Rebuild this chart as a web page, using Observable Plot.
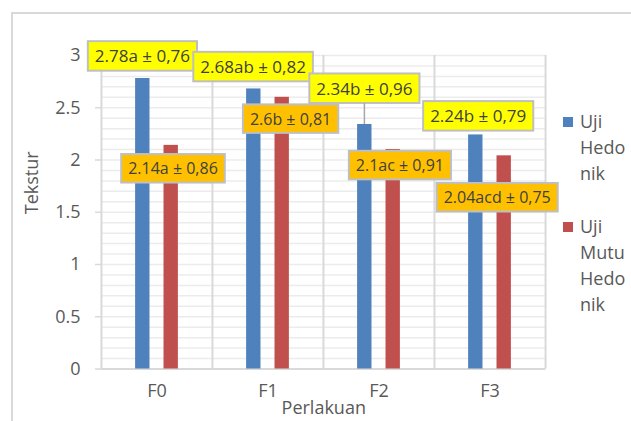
<!DOCTYPE html>
<html>
<head>
<meta charset="utf-8">
<script src="https://cdn.jsdelivr.net/npm/d3@7"></script>
<script src="https://cdn.jsdelivr.net/npm/@observablehq/plot@0.6"></script>
<style>
  html, body { margin: 0; padding: 0; background: #fff; }
  #chart svg { display: block; }
</style>
</head>
<body>
<div id="chart"></div>
<script>
// Treatments and the two sensory tests (texture scores)
const categories = ["F0", "F1", "F2", "F3"];
const seriesNames = ["Uji Hedonik", "Uji Mutu Hedonik"];
const hedonik = [2.78, 2.68, 2.34, 2.24];
const mutuHedonik = [2.14, 2.6, 2.1, 2.04];
const hedonikLetters = ["a", "ab", "b", "b"];
const hedonikSD = ["0,76", "0,82", "0,96", "0,79"];
const mutuLetters = ["a", "b", "ac", "acd"];
const mutuSD = ["0,86", "0,81", "0,91", "0,75"];
const yTicks = [0, 0.5, 1, 1.5, 2, 2.5, 3];

// Layout
const W = 631, H = 421;
const M = {top: 55, right: 85.5, bottom: 52.5, left: 101};
const band = (W - M.left - M.right) / categories.length;
const barW = 14.5, barShift = 14.2;
const inset = (band - barW) / 2;
const colors = ["#4f81bd", "#c0504d"];
const boxFill = ["#ffff00", "#ffc000"];
const gridColor = "#ececec", lineColor = "#d9d9d9", textColor = "#595959";

// Hand-placed label nudges (px) relative to each bar's top
const hedonikNudge = [[-0.4, -21.5], [-0.7, -21.3], [-0.4, -35.2], [2.4, -18]];
const mutuNudge = [[1.8, 23.8], [8.4, 22.2], [6.7, 16.4], [-7, 42.3]];

const rows = categories.map((c, i) => ({
  cat: c,
  h: hedonik[i],
  m: mutuHedonik[i],
  hl: `${hedonik[i]}${hedonikLetters[i]} ± ${hedonikSD[i]}`,
  ml: `${mutuHedonik[i]}${mutuLetters[i]} ± ${mutuSD[i]}`
}));

const minorGrid = d3.range(1, 31).map(k => k / 10);

const labelMark = (r, i, key, textKey, shift, nudge, size) =>
  Plot.text([r], {
    x: "cat", y: key, text: textKey,
    dx: shift + nudge[i][0], dy: nudge[i][1],
    lineAnchor: "middle", textAnchor: "middle",
    fontSize: size, fill: "#404040"
  });

const chart = Plot.plot({
  width: W, height: H,
  marginTop: M.top, marginRight: M.right, marginBottom: M.bottom, marginLeft: M.left,
  style: {fontFamily: "'Open Sans', sans-serif", fontSize: "18px", color: textColor, background: "#fff"},
  x: {domain: categories, padding: 0, tickSize: 0, tickPadding: 15, label: null},
  y: {domain: [0, 3], ticks: yTicks, tickSize: 6, tickPadding: 15, label: null, tickFormat: d => String(d)},
  marks: [
    Plot.ruleY(minorGrid, {stroke: gridColor, strokeWidth: 1.5}),
    Plot.ruleX(categories, {x: d => d, dx: -band / 2, stroke: lineColor, strokeWidth: 2}),
    Plot.ruleX([categories[categories.length - 1]], {x: d => d, dx: band / 2, stroke: lineColor, strokeWidth: 2}),
    Plot.ruleY([0], {stroke: lineColor, strokeWidth: 2}),
    Plot.barY(rows, {x: "cat", y: "h", fill: colors[0], dx: -barShift, insetLeft: inset, insetRight: inset}),
    Plot.barY(rows, {x: "cat", y: "m", fill: colors[1], dx: barShift, insetLeft: inset, insetRight: inset}),
    ...rows.map((r, i) => labelMark(r, i, "h", "hl", -barShift, hedonikNudge, 17)),
    ...rows.map((r, i) => labelMark(r, i, "m", "ml", barShift, mutuNudge, 16)),
    Plot.text(["Perlakuan"], {frameAnchor: "bottom", dy: 45, fontSize: 18, fill: textColor}),
    Plot.text(["Tekstur"], {frameAnchor: "left", dx: -69, dy: 2, rotate: -90, fontSize: 18, fill: textColor})
  ]
});

document.getElementById("chart").appendChild(chart);
const svg = d3.select(chart);

// Axis tick strokes in light gray
svg.selectAll('[aria-label="y-axis tick"], [aria-label="y-axis"] line, [aria-label="y-axis"] path')
  .attr("stroke", lineColor).attr("stroke-width", 1.5);

// Boxes behind the data labels, leader line for labels lifted well above their bar
const yScale = chart.scale("y");
const svgRect = chart.getBoundingClientRect();
const leaders = [];
const labelStyle = new Map();
rows.forEach((r, i) => {
  labelStyle.set(r.hl, {fill: boxFill[0], h: 29.5, top: yScale.apply(r.h), above: hedonikNudge[i][1] < 0});
  labelStyle.set(r.ml, {fill: boxFill[1], h: 28.5, top: yScale.apply(r.m), above: mutuNudge[i][1] < 0});
});
svg.selectAll("text").each(function () {
  const st = labelStyle.get(this.textContent);
  if (!st) return;
  const b = this.getBBox();
  const padX = 7;
  const cy = b.y + b.height / 2;
  const rect = document.createElementNS("http://www.w3.org/2000/svg", "rect");
  rect.setAttribute("x", b.x - padX);
  rect.setAttribute("y", cy - st.h / 2);
  rect.setAttribute("width", b.width + 2 * padX);
  rect.setAttribute("height", st.h);
  rect.setAttribute("fill", st.fill);
  rect.setAttribute("stroke", "#bfbfbf");
  rect.setAttribute("stroke-width", 2);
  const tr = this.getAttribute("transform");
  if (tr) rect.setAttribute("transform", tr);
  this.parentNode.insertBefore(rect, this);
  const rr = rect.getBoundingClientRect();
  const bottom = rr.bottom - svgRect.top;
  if (st.above && st.top - bottom > 10) {
    leaders.push({x: rr.left + rr.width / 2 - svgRect.left, y1: bottom, y2: st.top});
  }
});
svg.append("g").selectAll("line").data(leaders).join("line")
  .attr("x1", d => d.x).attr("x2", d => d.x)
  .attr("y1", d => d.y1).attr("y2", d => d.y2)
  .attr("stroke", "#a6a6a6").attr("stroke-width", 1.5);

// Legend with the series names wrapped into a narrow column
const wrap = name => name.split(" ").flatMap(w => w.match(/.{1,4}/g));
const legendTop = [122, 227];
const legend = svg.append("g")
  .attr("font-size", 18).attr("fill", textColor).attr("text-anchor", "start");
seriesNames.forEach((name, s) => {
  legend.append("rect")
    .attr("x", 563).attr("y", legendTop[s] - 5).attr("width", 10).attr("height", 10)
    .attr("fill", colors[s]);
  wrap(name).forEach((line, k) => {
    legend.append("text")
      .attr("x", 580).attr("y", legendTop[s] + k * 26).attr("dy", "0.35em")
      .text(line);
  });
});

// Chart-area border
svg.append("rect")
  .attr("x", 12).attr("y", 13).attr("width", 700).attr("height", 500)
  .attr("fill", "none").attr("stroke", lineColor).attr("stroke-width", 2);
</script>
</body>
</html>
